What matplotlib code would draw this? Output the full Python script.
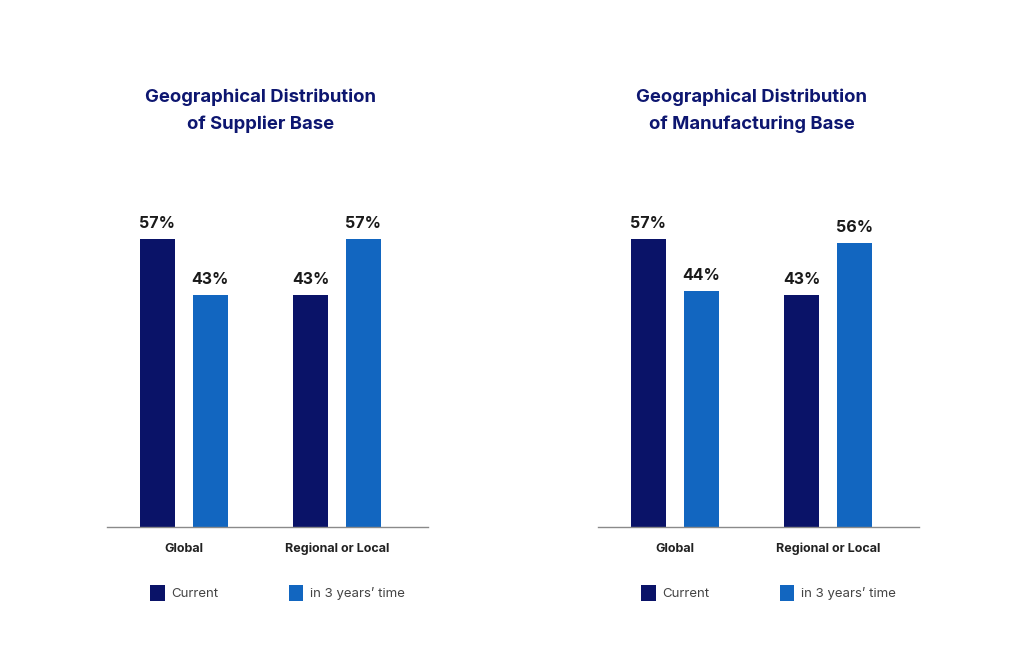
import matplotlib.pyplot as plt
from matplotlib.transforms import blended_transform_factory
import numpy as np

plt.rcParams['font.family'] = ['Inter', 'DejaVu Sans']

categories = ['Global', 'Regional or Local']
series_names = ['Current', 'in 3 years\u2019 time']
titles = ['Geographical Distribution\nof Supplier Base',
          'Geographical Distribution\nof Manufacturing Base']
supplier_current = [57, 43]
supplier_future = [43, 57]
manuf_current = [57, 43]
manuf_future = [44, 56]

panels = [(supplier_current, supplier_future), (manuf_current, manuf_future)]

col_current = '#0a1368'
col_future = '#1266c0'
base = -15  # axis floor, bars are drawn up from here

fig = plt.figure(figsize=(10.24, 6.61), dpi=100)
lefts = [107 / 1024, 598 / 1024]

x = np.arange(len(categories))
w = 0.229
off = 0.173

for left, (cur, fut), title in zip(lefts, panels, titles):
    ax = fig.add_axes([left, 1 - 527 / 661, 321 / 1024, 327 / 661])
    cur = np.array(cur)
    fut = np.array(fut)
    ax.bar(x - off, cur - base, w, bottom=base, color=col_current, label=series_names[0])
    ax.bar(x + off, fut - base, w, bottom=base, color=col_future, label=series_names[1])
    for xs, vals in [(x - off, cur), (x + off, fut)]:
        for xi, v in zip(xs, vals):
            ax.annotate(f'{v}%', (xi, v), xytext=(0, 6), textcoords='offset points',
                        ha='center', va='bottom', fontsize=11.5, fontweight='bold',
                        color='#1a1a1a')
    ax.set_xlim(-0.503, 1.595)
    ax.set_ylim(base, 66.75)
    for s in ['top', 'left', 'right']:
        ax.spines[s].set_visible(False)
    ax.spines['bottom'].set_color('#8a8a8a')
    ax.spines['bottom'].set_linewidth(1)
    ax.set_yticks([])
    ax.set_xticks(x)
    ax.set_xticklabels(categories, fontsize=9, fontweight='bold', color='#222222')
    ax.tick_params(axis='x', length=0, pad=11.5)

    tr = blended_transform_factory(ax.transData, ax.transAxes)
    ax.text(0.5, 1.272, title, transform=tr, ha='center', va='center',
            fontsize=13.3, fontweight='bold', color='#0d1670', linespacing=1.7)

    ax.legend(loc='upper left', bbox_to_anchor=(0.134, -0.176), ncol=2, frameon=False,
              fontsize=9.5, handlelength=1.1, handleheight=1.5, handletextpad=0.5,
              columnspacing=5.35, labelcolor='#444444', borderaxespad=0, borderpad=0)

fig.savefig('out.png', dpi=100, facecolor='white')
